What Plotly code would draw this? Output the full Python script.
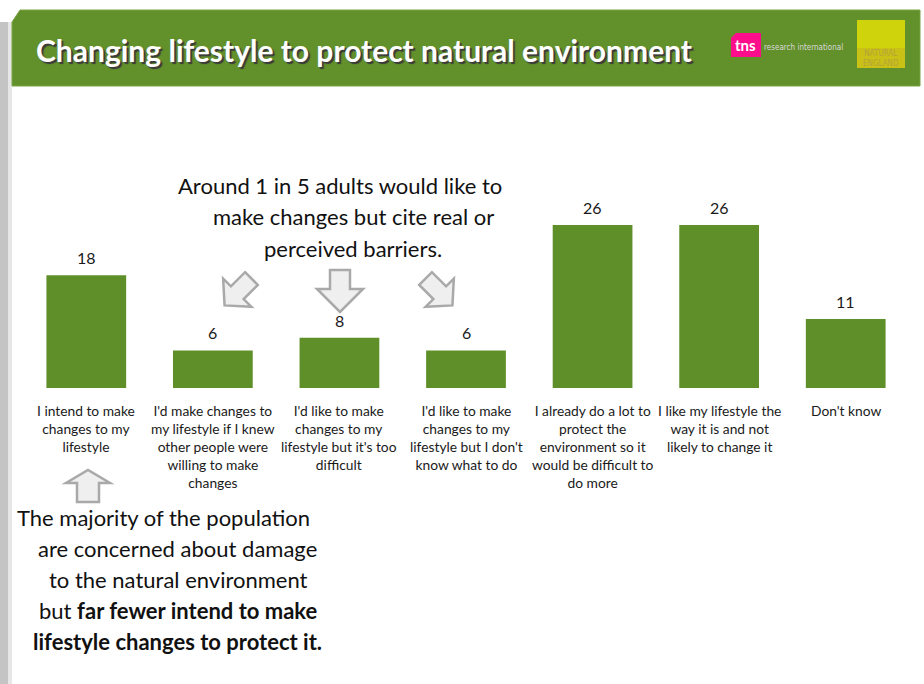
import math
import plotly.graph_objects as go

# Survey responses (% of adults)
categories = [
    "I intend to make<br>changes to my<br>lifestyle",
    "I'd make changes to<br>my lifestyle if I knew<br>other people were<br>willing to make<br>changes",
    "I'd like to make<br>changes to my<br>lifestyle but it's too<br>difficult",
    "I'd like to make<br>changes to my<br>lifestyle but I don't<br>know what to do",
    "I already do a lot to<br>protect the<br>environment so it<br>would be difficult to<br>do more",
    "I like my lifestyle the<br>way it is and not<br>likely to change it",
    "Don't know",
]
values = [18, 6, 8, 6, 26, 26, 11]

title_text = "Changing lifestyle to protect natural environment"
callout_lines = [
    "Around 1 in 5 adults would like to",
    "make changes but cite real or",
    "perceived barriers.",
]
summary_lines = [
    "The majority of the population",
    "are concerned about damage",
    "to the natural environment",
    "but <b>far fewer intend to make</b>",
    "<b>lifestyle changes to protect it.</b>",
]

W, H = 924, 684
L, R, T, B = 23, 909, 200, 388
GREEN = "#5f8f28"
FONT = "Lato"


def px(x):
    return (x - L) / (R - L)


def py(y):
    return (B - y) / (B - T)


def arrow_path(cx, cy, length, head_len, hw, sw, angle_deg):
    """Block arrow pointing down (screen coords), rotated by angle_deg."""
    top, tip = -length / 2, length / 2
    base = tip - head_len
    pts = [(-sw, top), (sw, top), (sw, base), (hw, base), (0, tip), (-hw, base), (-sw, base)]
    a = math.radians(angle_deg)
    out = []
    for x, y in pts:
        rx = x * math.cos(a) - y * math.sin(a)
        ry = x * math.sin(a) + y * math.cos(a)
        out.append((px(cx + rx), py(cy + ry)))
    return "M " + " L ".join(f"{x:.5f},{y:.5f}" for x, y in out) + " Z"


fig = go.Figure(
    go.Bar(
        x=list(range(len(values))),
        y=values,
        marker=dict(color=GREEN, line=dict(width=0)),
        width=0.63,
        hoverinfo="skip",
    )
)

annotations = []
# value labels above bars
for i, v in enumerate(values):
    annotations.append(dict(
        x=i, y=v, xref="x", yref="y", text=str(v), showarrow=False,
        yanchor="bottom", yshift=6,
        font=dict(family=FONT, size=16, color="#1a1a1a"),
    ))
# category labels under bars
for i, c in enumerate(categories):
    annotations.append(dict(
        x=i, y=py(400), xref="x", yref="paper", text=c, showarrow=False,
        yanchor="top", align="center",
        font=dict(family=FONT, size=13.8, color="#1a1a1a"),
    ))

# callout above the "barrier" bars
for txt, cx, cy in zip(callout_lines, [340, 353, 353], [185, 216, 248]):
    annotations.append(dict(
        x=px(cx), y=py(cy), xref="paper", yref="paper", text=txt, showarrow=False,
        xanchor="center", yanchor="middle",
        font=dict(family=FONT, size=22, color="#111111"),
    ))

# summary text at the bottom left
for txt, cx, cy in zip(summary_lines, [163, 177, 178, 178, 177], [517, 548, 579, 610, 641]):
    annotations.append(dict(
        x=px(cx), y=py(cy), xref="paper", yref="paper", text=txt, showarrow=False,
        xanchor="center", yanchor="middle",
        font=dict(family=FONT, size=22, color="#111111"),
    ))

# header title
annotations.append(dict(
    x=px(34), y=py(50), xref="paper", yref="paper", text="<b>" + title_text + "</b>",
    showarrow=False, xanchor="left", yanchor="middle",
    font=dict(family=FONT, size=30, color="white", shadow="2px 2px 1px #3a3a3a"),
))
# logos
annotations.append(dict(
    x=px(745), y=py(45), xref="paper", yref="paper", text="<b>tns</b>",
    showarrow=False, xanchor="center", yanchor="middle",
    font=dict(family=FONT, size=15, color="white"),
))
annotations.append(dict(
    x=px(762), y=py(47), xref="paper", yref="paper", text="research international",
    showarrow=False, xanchor="left", yanchor="middle",
    font=dict(family="DejaVu Sans Condensed", size=8, color="#d9d9d9"),
))
annotations.append(dict(
    x=px(881), y=py(58), xref="paper", yref="paper", text="NATURAL<br>ENGLAND",
    showarrow=False, xanchor="center", yanchor="middle", align="center",
    font=dict(family="DejaVu Sans Condensed", size=8, color="#b5a23c"),
))

shapes = [
    # page edge shadow on the left
    dict(type="rect", xref="paper", yref="paper", x0=px(0), x1=px(12), y0=py(684), y1=py(22),
         fillcolor="#c4c4c4", line=dict(width=0), layer="below"),
    dict(type="rect", xref="paper", yref="paper", x0=px(8), x1=px(12), y0=py(684), y1=py(22),
         fillcolor="#e6e6e6", line=dict(width=0), layer="below"),
    # header band
    dict(type="path", xref="paper", yref="paper",
         path=f"M {px(12)},{py(22)} L {px(20)},{py(10)} L {px(920)},{py(10)} "
              f"L {px(920)},{py(86)} L {px(12)},{py(86)} Z",
         fillcolor="#62902b", line=dict(color="#7aa345", width=1), layer="below"),
    # tns logo block
    dict(type="path", xref="paper", yref="paper",
         path=f"M {px(731)},{py(38)} L {px(736)},{py(33)} L {px(761)},{py(33)} "
              f"L {px(761)},{py(57)} L {px(731)},{py(57)} Z",
         fillcolor="#ff0e8c", line=dict(width=0)),
    # Natural England logo block
    dict(type="rect", xref="paper", yref="paper", x0=px(857), x1=px(905), y0=py(68), y1=py(20),
         fillcolor="#cfd30b", line=dict(width=0)),
    dict(type="rect", xref="paper", yref="paper", x0=px(857), x1=px(905), y0=py(68), y1=py(48),
         fillcolor="rgba(190,160,40,0.35)", line=dict(width=0)),
]

arrow_style = dict(type="path", xref="paper", yref="paper",
                   fillcolor="#efefef", line=dict(color="#a9a9a9", width=2.5))
shapes.append(dict(arrow_style, path=arrow_path(238, 292, 38, 18, 20, 9, 45)))
shapes.append(dict(arrow_style, path=arrow_path(340, 291, 42, 23, 23, 10, 0)))
shapes.append(dict(arrow_style, path=arrow_path(439, 292, 38, 18, 20, 9, -45)))
shapes.append(dict(arrow_style, path=arrow_path(88, 486, 32, 13, 22, 11, 180)))

fig.update_layout(
    width=W, height=H,
    margin=dict(l=L, r=W - R, t=T, b=H - B, pad=0),
    paper_bgcolor="white", plot_bgcolor="white",
    showlegend=False,
    xaxis=dict(range=[-0.5, len(values) - 0.5], visible=False, fixedrange=True),
    yaxis=dict(range=[0, 30], visible=False, fixedrange=True),
    annotations=annotations,
    shapes=shapes,
)

fig.write_html("out.html", config={"displayModeBar": False})
